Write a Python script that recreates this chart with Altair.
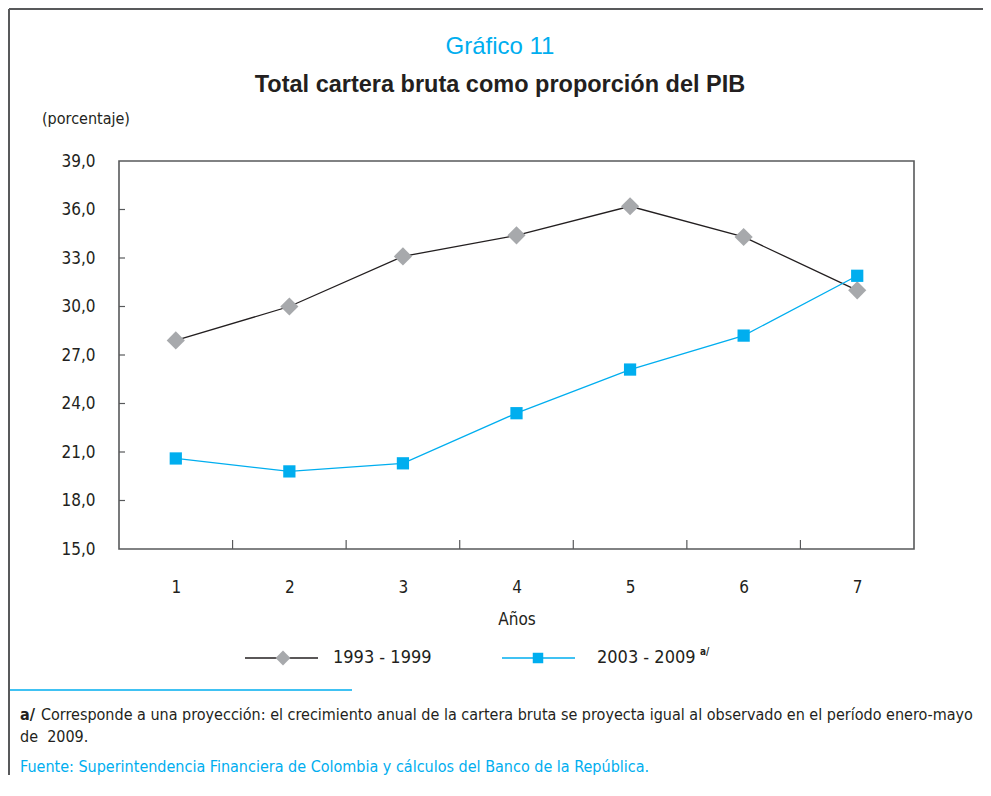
import altair as alt
import pandas as pd

# ---- data ----
years = [1, 2, 3, 4, 5, 6, 7]
serie_1993_1999 = [27.9, 30.0, 33.1, 34.4, 36.2, 34.3, 31.0]
serie_2003_2009 = [20.6, 19.8, 20.3, 23.4, 26.1, 28.2, 31.9]
series_names = ["1993 - 1999", "2003 - 2009"]
y_tick_values = [15, 18, 21, 24, 27, 30, 33, 36, 39]

title_top = "Gráfico 11"
title_main = "Total cartera bruta como proporción del PIB"
unit_label = "(porcentaje)"
x_title = "Años"
note_a = "Corresponde a una proyección: el crecimiento anual de la cartera bruta se proyecta igual al observado en el período enero-mayo"
note_a2 = "de\u00a0 2009."
source = "Fuente: Superintendencia Financiera de Colombia y cálculos del Banco de la República."

df = pd.DataFrame({
    "year": years * 2,
    "value": serie_1993_1999 + serie_2003_2009,
    "serie": [series_names[0]] * len(years) + [series_names[1]] * len(years),
})

FONT = "Liberation Sans Narrow, Arial Narrow, DejaVu Sans Condensed, sans-serif"
TFONT = "Liberation Sans, Arial, sans-serif"
TXT = "#231F20"
BLUE = "#00AEEF"
GRAY = "#A7A9AC"
FRAME = "#58595B"

W, H = 795, 388

xs = alt.Scale(domain=[0.5, 7.5], nice=False, zero=False)
ys = alt.Scale(domain=[15, 39], nice=False, zero=False)

X = alt.X("year:Q", scale=xs, axis=alt.Axis(values=years, title=None, format="d",
                                             labelPadding=30, ticks=False, tickSize=0,
                                             domain=False, grid=False))
Y = alt.Y("value:Q", scale=ys, axis=alt.Axis(values=y_tick_values, title=None,
                                              labelExpr="replace(format(datum.value, '.1f'), '.', ',')",
                                              labelPadding=24, ticks=False, tickSize=0,
                                              domain=False, grid=False))

base = alt.Chart(df)
styles = {
    series_names[0]: dict(line=TXT, fill=GRAY, shape="diamond", size=330),
    series_names[1]: dict(line=BLUE, fill=BLUE, shape="square", size=150),
}

layers = []
for name in series_names:
    st = styles[name]
    sub = base.transform_filter(alt.datum.serie == name)
    layers.append(sub.mark_line(color=st["line"], strokeWidth=1.3).encode(x=X, y=Y))
    layers.append(sub.mark_point(filled=True, opacity=1, color=st["fill"], shape=st["shape"],
                                 size=st["size"]).encode(x=X, y=Y))

# inward ticks on the axes
ytick_df = pd.DataFrame({"value": y_tick_values[1:-1]})
layers.append(alt.Chart(ytick_df).mark_rule(color=FRAME, strokeWidth=1.2).encode(
    y=alt.Y("value:Q", scale=ys), x=alt.value(0), x2=alt.value(6)))
xtick_df = pd.DataFrame({"year": [v + 0.5 for v in years[:-1]]})
layers.append(alt.Chart(xtick_df).mark_rule(color=FRAME, strokeWidth=1.2).encode(
    x=alt.X("year:Q", scale=xs), y=alt.value(H), y2=alt.value(H - 9)))

one = alt.Data(values=[{}])


def text(t, x, y, size=16, color=TXT, weight="normal", align="left", font=FONT):
    return alt.Chart(one).mark_text(text=t, font=font, fontSize=size, color=color,
                                    fontWeight=weight, align=align, baseline="middle").encode(
        x=alt.value(x), y=alt.value(y))


def rule(x1, x2, y1, y2, color, width):
    return alt.Chart(one).mark_rule(color=color, strokeWidth=width).encode(
        x=alt.value(x1), x2=alt.value(x2), y=alt.value(y1), y2=alt.value(y2))


# titles
layers.append(text(title_top, 381, -114, size=24, color=BLUE, align="center", font=TFONT))
layers.append(text(title_main, 381, -76, size=23.5, weight="bold", align="center", font=TFONT))
layers.append(text(unit_label, -77, -42, size=16))
layers.append(text(x_title, 398, 459, size=17, align="center"))

# legend
layers.append(rule(126, 199, 497, 497, TXT, 1.3))
layers.append(alt.Chart(one).mark_point(filled=True, opacity=1, color=GRAY, shape="diamond", size=220)
              .encode(x=alt.value(164), y=alt.value(497)))
layers.append(text(series_names[0], 214, 497, size=18))
layers.append(rule(383, 456, 497, 497, BLUE, 1.3))
layers.append(alt.Chart(one).mark_point(filled=True, opacity=1, color=BLUE, shape="square", size=110)
              .encode(x=alt.value(419), y=alt.value(497)))
layers.append(text(series_names[1], 478, 497, size=18))
layers.append(text("a/", 581, 491, size=10, weight="bold"))

# separator and notes
layers.append(rule(-111, 233, 529, 529, BLUE, 1.5))
layers.append(text("a/", -99, 554, size=16, weight="bold"))
layers.append(text(note_a, -78, 554, size=16))
layers.append(text(note_a2, -99, 576, size=16))
layers.append(text(source, -99, 606, size=16, color=BLUE))

# outer frame (top and left edges)
layers.append(rule(-110, 864, -152, -152, FRAME, 2))
layers.append(rule(-110, -110, -152, 614, FRAME, 2))

chart = alt.layer(*layers).properties(
    width=W, height=H,
    autosize=alt.AutoSizeParams(type="none"),
    padding={"left": 111, "top": 153, "right": 69, "bottom": 234},
).configure_view(stroke=FRAME, strokeWidth=1.6).configure_axis(
    labelFont=FONT, labelFontSize=17, labelColor=TXT
)

chart.save("out.html", embed_options={"renderer": "svg", "actions": False})
